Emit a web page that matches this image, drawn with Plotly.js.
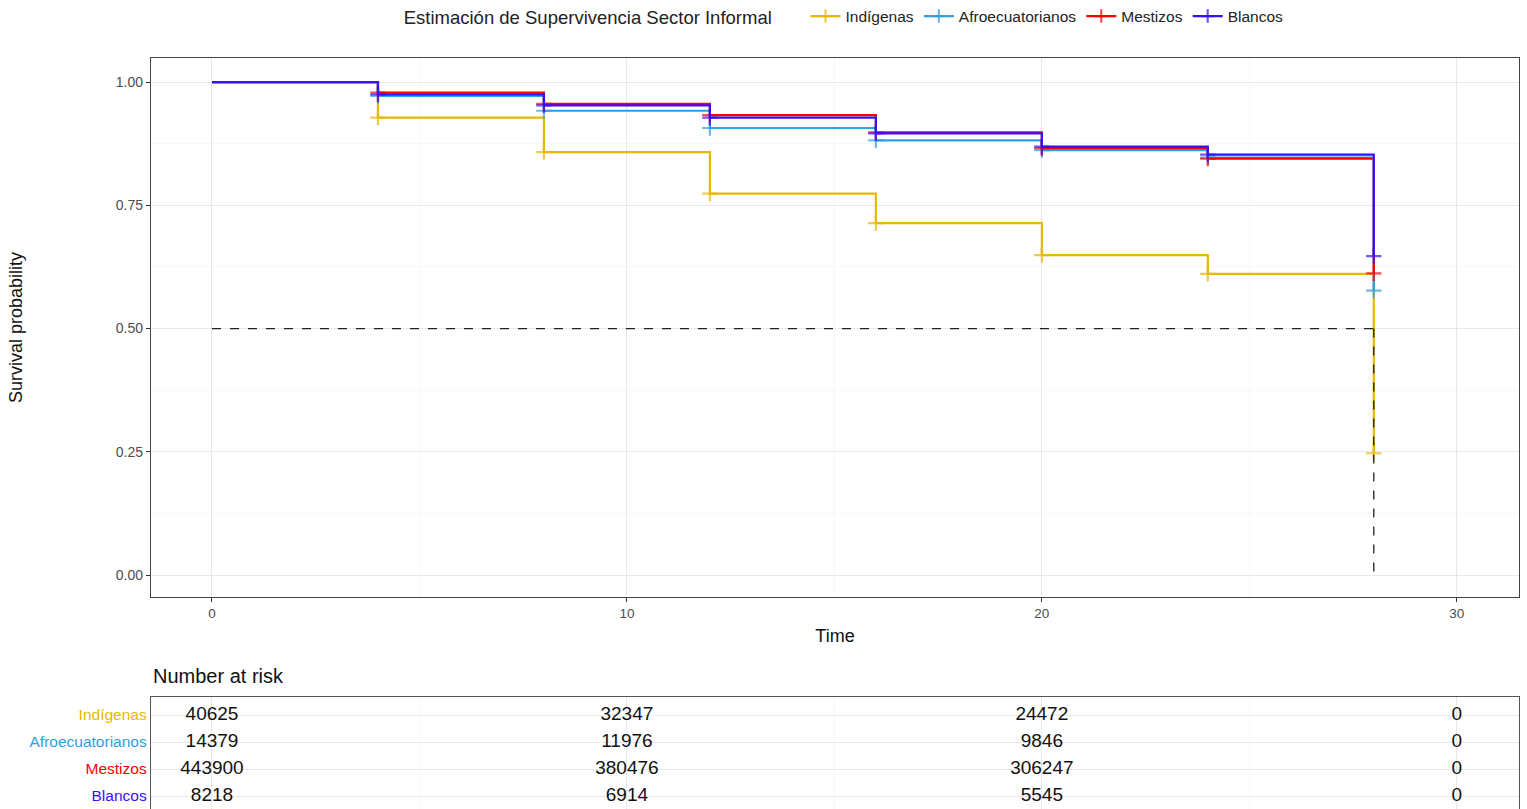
<!DOCTYPE html>
<html>
<head>
<meta charset="utf-8">
<script src="https://cdn.plot.ly/plotly-3.0.1.min.js"></script>
<style>html,body{margin:0;padding:0;background:#fff;}#chart{width:1527px;height:809px;}</style>
</head>
<body>
<div id="chart"></div>
<script>
// ---- data ----
var groups = ["Indígenas", "Afroecuatorianos", "Mestizos", "Blancos"];
var colors = ["#E7B800", "#2E9FDF", "#FF0000", "#3311FF"];
var times = [0, 4, 8, 12, 16, 20, 24, 28];
var survIndigenas = [1, 0.928, 0.858, 0.774, 0.714, 0.649, 0.611, 0.247];
var survAfro      = [1, 0.972, 0.942, 0.907, 0.882, 0.862, 0.847, 0.577];
var survMestizos  = [1, 0.979, 0.956, 0.933, 0.898, 0.866, 0.845, 0.612];
var survBlancos   = [1, 0.975, 0.953, 0.928, 0.896, 0.869, 0.853, 0.647];
var medianSurv = 0.5;
var medianTime = 28;
var riskTimes = [0, 10, 20, 30];
var riskIndigenas = [40625, 32347, 24472, 0];
var riskAfro      = [14379, 11976, 9846, 0];
var riskMestizos  = [443900, 380476, 306247, 0];
var riskBlancos   = [8218, 6914, 5545, 0];
var legendTitle = "Estimación de Supervivencia Sector Informal";
var xTitle = "Time";
var yTitle = "Survival probability";
var tableTitle = "Number at risk";

var survAll = [survIndigenas, survAfro, survMestizos, survBlancos];
var riskAll = [riskIndigenas, riskAfro, riskMestizos, riskBlancos];
var FONT = "Liberation Sans, Arial, sans-serif";

var traces = [];
for (var g = 0; g < groups.length; g++) {
  var sizes = times.map(function (t, i) { return i === 0 ? 0 : 11; });
  traces.push({
    type: "scatter", mode: "lines+markers", name: groups[g],
    x: times, y: survAll[g], xaxis: "x", yaxis: "y",
    line: {shape: "hv", color: colors[g], width: 2.2},
    marker: {symbol: "cross-thin", size: sizes, color: colors[g], line: {color: colors[g], width: 2.2}},
    hoverinfo: "x+y+name"
  });
}
// risk table numbers
for (var g2 = 0; g2 < groups.length; g2++) {
  traces.push({
    type: "scatter", mode: "text", showlegend: false,
    x: riskTimes, y: riskTimes.map(function () { return groups.length - g2; }),
    text: riskAll[g2].map(String), xaxis: "x2", yaxis: "y2",
    textfont: {family: FONT, size: 19, color: "#111"},
    textposition: "middle center", hoverinfo: "skip"
  });
}

var rowTicks = groups.map(function (n, i) { return groups.length - i; });
var rowText = groups.map(function (n, i) { return '<span style="color:' + colors[i] + '">' + n + '</span>'; });

var gridMajor = "#e8e8e8", gridMinor = "#f3f3f3";
var layout = {
  width: 1527, height: 809,
  margin: {l: 151, r: 8, t: 58, b: 0},
  paper_bgcolor: "#fff", plot_bgcolor: "#fff",
  font: {family: FONT, color: "#222"},
  showlegend: true,
  legend: {
    orientation: "h", x: 0.5535, xanchor: "center", y: 1 - 17 / 809, yanchor: "middle",
    xref: "container", yref: "container",
    title: {text: legendTitle + "     ", side: "left", font: {size: 18.5, color: "#222", family: FONT}},
    font: {size: 15.5, color: "#222", family: FONT},
    itemwidth: 30, tracegroupgap: 0
  },
  xaxis: {
    domain: [0, 1], range: [-1.47, 31.5], anchor: "y",
    tickvals: [0, 10, 20, 30], ticks: "outside", ticklen: 4, tickcolor: "#333", tickwidth: 1,
    tickfont: {size: 13.5, color: "#4d4d4d"},
    showgrid: true, gridcolor: gridMajor, gridwidth: 1,
    minor: {tickvals: [5, 15, 25], showgrid: true, gridcolor: gridMinor, gridwidth: 0.7, ticks: ""},
    zeroline: false, showline: true, linecolor: "#444", linewidth: 1.2, mirror: true,
    title: {text: xTitle, font: {size: 18, color: "#111"}, standoff: 9}
  },
  yaxis: {
    domain: [0.2823, 1], range: [-0.0446, 1.049], anchor: "x",
    tickvals: [0, 0.25, 0.5, 0.75, 1], ticktext: ["0.00", "0.25", "0.50", "0.75", "1.00"],
    ticks: "outside", ticklen: 4, tickcolor: "#333",
    tickfont: {size: 14, color: "#4d4d4d"},
    showgrid: true, gridcolor: gridMajor,
    minor: {tickvals: [0.125, 0.375, 0.625, 0.875], showgrid: true, gridcolor: gridMinor, gridwidth: 0.7, ticks: ""},
    zeroline: false, showline: true, linecolor: "#444", linewidth: 1.2, mirror: true,
    title: {text: yTitle, font: {size: 18, color: "#111"}, standoff: 88}
  },
  xaxis2: {
    domain: [0, 1], range: [-1.47, 31.5], anchor: "y2",
    tickvals: [0, 10, 20, 30], showticklabels: false, ticks: "",
    showgrid: true, gridcolor: gridMajor,
    minor: {tickvals: [5, 15, 25], showgrid: true, gridcolor: gridMinor, gridwidth: 0.7, ticks: ""},
    zeroline: false, showline: true, linecolor: "#555", linewidth: 1.2, mirror: true
  },
  yaxis2: {
    domain: [0, 0.1491], range: [0.519, 4.667], anchor: "x2",
    tickvals: rowTicks, ticktext: rowText, ticks: "",
    tickfont: {size: 15.5},
    showgrid: true, gridcolor: gridMajor,
    zeroline: false, showline: true, linecolor: "#555", linewidth: 1.2, mirror: true
  },
  shapes: [
    {type: "line", xref: "x", yref: "y", x0: 0, x1: medianTime, y0: medianSurv, y1: medianSurv,
     line: {color: "#222", width: 1.3, dash: "dash"}, layer: "above"},
    {type: "line", xref: "x", yref: "y", x0: medianTime, x1: medianTime, y0: medianSurv, y1: 0,
     line: {color: "#222", width: 1.3, dash: "dash"}, layer: "above"}
  ],
  annotations: [
    {text: tableTitle, xref: "paper", yref: "paper", x: 0, xanchor: "left", y: (809 - 676) / 751, yanchor: "middle",
     showarrow: false, font: {size: 20, color: "#111", family: FONT}}
  ]
};

Plotly.newPlot("chart", traces, layout, {displayModeBar: false, staticPlot: true});
</script>
</body>
</html>
